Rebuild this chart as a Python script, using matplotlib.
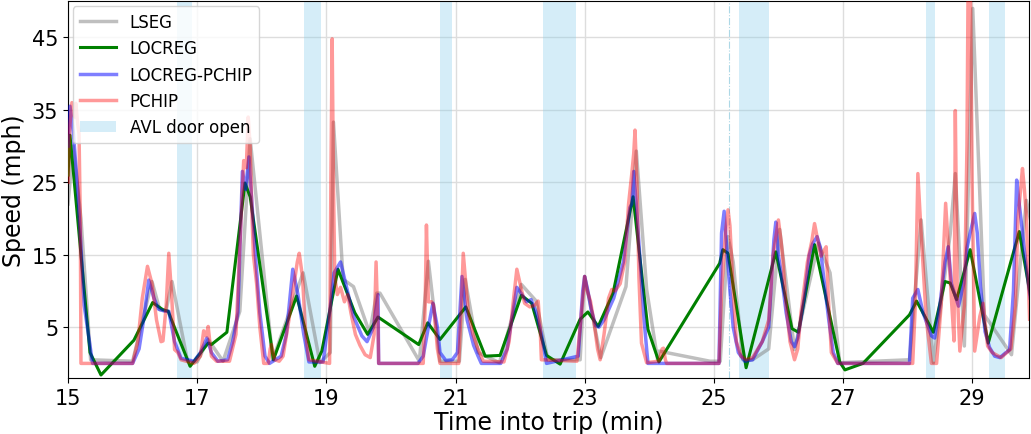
import matplotlib
matplotlib.use("Agg")
import matplotlib.pyplot as plt

# ---- data (minutes, mph) ----
lseg_t = [15.0, 15.08, 15.2, 15.35, 16.0, 16.3, 16.42, 16.52, 16.61, 16.85, 17.0, 17.17, 17.40,
          17.66, 17.82, 17.89, 18.17, 18.64, 18.90, 19.06, 19.11, 19.26, 19.42, 19.67, 19.78,
          19.83, 20.44, 20.58, 20.76, 21.06, 21.15, 21.35, 21.68, 22.02, 22.25, 22.43, 22.93,
          23.00, 23.25, 23.64, 23.80, 23.96, 24.13, 24.15, 24.94, 25.10, 25.22, 25.30, 25.45,
          25.6, 25.85, 26.02, 26.25, 26.4, 26.62, 26.80, 26.95, 28.03, 28.21, 28.40, 28.66,
          28.74, 28.88, 29.01, 29.19, 29.61, 29.84, 29.9]
lseg_v = [22, 30, 20, 0.5, 0.3, 11.3, 7.4, 7.4, 11.3, 0.3, 0.2, 3.3, 0.3,
          7.2, 31.0, 24.9, 0.5, 12.5, 0.1, 1.5, 33.3, 11.6, 10.6, 4.2, 9.7,
          9.7, 0.3, 14.1, 0.3, 0.3, 11.6, 1.5, 0.1, 10.9, 8.6, 0.5, 0.5,
          12.0, 0.8, 10.6, 29.3, 10.2, 0.5, 1.7, 0.3, 0.3, 17.5, 14.0, 0.5,
          0.5, 2.0, 18.5, 1.9, 8.0, 16.6, 12.5, 0.1, 0.5, 19.8, 0.1, 17.8,
          26.2, 2.4, 49.0, 6.7, 1.2, 22.5, 20.0]

locreg_t = [15.0, 15.03, 15.34, 15.51, 16.02, 16.31, 16.47, 16.55, 16.66, 16.89, 17.17, 17.22,
            17.46, 17.74, 17.82, 18.18, 18.54, 18.82, 18.93, 19.18, 19.44, 19.64, 19.80, 20.43,
            20.57, 20.76, 21.16, 21.46, 21.69, 22.02, 22.18, 22.41, 22.62, 22.93, 23.05, 23.21,
            23.44, 23.75, 23.98, 24.15, 25.09, 25.14, 25.22, 25.50, 25.96, 26.21, 26.31, 26.56,
            26.95, 27.03, 27.31, 28.03, 28.14, 28.40, 28.58, 28.66, 28.76, 28.97, 29.25, 29.73,
            29.9]
locreg_v = [26, 31.5, 1.5, -1.6, 3.2, 8.4, 7.4, 7.2, 4.7, -0.4, 2.8, 2.6,
            4.3, 24.9, 23.0, 0.5, 9.3, -0.4, 1.7, 13.0, 7.0, 4.0, 6.4, 2.6,
            5.6, 3.3, 7.8, 1.0, 1.1, 9.4, 8.3, 1.1, -0.1, 6.1, 7.1, 5.1,
            9.7, 23.0, 4.7, 0.2, 13.8, 15.7, 15.2, -0.6, 15.4, 4.8, 4.3, 16.4,
            0.2, -0.9, 0.0, 6.7, 8.6, 4.3, 11.3, 11.1, 8.8, 15.7, 2.8, 18.2,
            9.5]

lpchip_t = [15.0, 15.03, 15.08, 15.15, 15.25, 15.38, 16.0, 16.1, 16.17, 16.25, 16.33, 16.4, 16.5,
            16.56, 16.65, 16.75, 16.95, 17.05, 17.15, 17.22, 17.32, 17.47, 17.55, 17.63, 17.7,
            17.75, 17.8, 17.9, 17.97, 18.05, 18.12, 18.3, 18.38, 18.48, 18.56, 18.65, 18.73,
            18.95, 19.05, 19.12, 19.22, 19.3, 19.42, 19.55, 19.63, 19.73, 19.8, 19.81, 20.42,
            20.5, 20.58, 20.65, 20.72, 20.76, 20.85, 20.95, 21.03, 21.1, 21.18, 21.28, 21.35,
            21.4, 21.7, 21.8, 21.87, 21.95, 22.03, 22.1, 22.17, 22.25, 22.33, 22.41, 22.9,
            22.97, 23.0, 23.05, 23.1, 23.17, 23.22, 23.3, 23.45, 23.6, 23.7, 23.73, 23.76,
            23.8, 23.86, 23.92, 23.98, 25.08, 25.12, 25.16, 25.2, 25.25, 25.3, 25.38, 25.48,
            25.6, 25.75, 25.85, 25.93, 25.96, 26.0, 26.05, 26.12, 26.2, 26.25, 26.3, 26.4,
            26.48, 26.53, 26.6, 26.65, 26.7, 26.78, 26.85, 26.92, 28.03, 28.08, 28.16, 28.24,
            28.37, 28.42, 28.5, 28.58, 28.63, 28.68, 28.79, 28.87, 28.92, 28.97, 29.04, 29.08,
            29.13, 29.2, 29.27, 29.35, 29.43, 29.58, 29.64, 29.69, 29.73, 29.77, 29.83, 29.9]
lpchip_v = [30, 35.5, 32, 24, 8, 0, 0, 2, 6, 11.5, 9, 7.5, 7.2,
            7.2, 3, 0.7, 0.3, 1.5, 3.5, 1.5, 0.3, 0.5, 3, 7, 26.5,
            24, 28.5, 15, 7, 1, 0, 1, 4, 13, 9.5, 4, 0.2,
            0.2, 7, 12.5, 14, 11, 6.5, 3.8, 3, 5, 9.5, 0, 0,
            1, 5, 8.3, 5, 1.5, 0.4, 0.5, 1.5, 12, 6, 2.5, 1,
            0, 0, 2, 6, 10.5, 9.5, 8.5, 8.8, 7, 4, 0, 1,
            10, 12, 10, 7.5, 5.2, 5, 6, 9, 14, 21.5, 22, 26.5,
            22, 14, 6, 0, 0, 18, 21, 16, 10, 5, 1.5, 0.3,
            0.5, 3, 5, 17, 19.5, 15, 12, 7, 3, 2.3, 3.5, 9,
            15, 16.5, 17.5, 16, 12, 6, 1.5, 0, 0, 9, 10.2, 7,
            3.8, 3.5, 8, 14, 16.1, 11, 7.9, 11, 15.9, 18, 20.7, 18,
            10.6, 4.4, 2.2, 1, 0.8, 1.9, 10, 25.3, 22, 18.9, 14, 9]

pchip_t = [15.0, 15.03, 15.06, 15.1, 15.12, 15.15, 15.17, 15.19, 15.2, 16.0, 16.08, 16.15, 16.23,
           16.3, 16.37, 16.44, 16.47, 16.52, 16.56, 16.6, 16.65, 16.7, 16.75, 16.95, 17.05, 17.1,
           17.14, 17.17, 17.22, 17.3, 17.5, 17.6, 17.68, 17.72, 17.76, 17.79, 17.82, 17.85, 17.87,
           17.92, 17.97, 18.03, 18.1, 18.13, 18.15, 18.2, 18.27, 18.33, 18.42, 18.5, 18.55, 18.58,
           18.63, 18.68, 18.73, 19.05, 19.07, 19.09, 19.11, 19.13, 19.17, 19.22, 19.28, 19.33,
           19.38, 19.45, 19.52, 19.6, 19.68, 19.74, 19.77, 19.8, 19.81, 20.5, 20.53, 20.55, 20.58,
           20.63, 20.66, 20.72, 20.76, 21.05, 21.09, 21.12, 21.16, 21.2, 21.27, 21.33, 21.43,
           21.75, 21.83, 21.9, 21.95, 22.0, 22.07, 22.15, 22.22, 22.28, 22.31, 22.33, 22.88,
           22.93, 23.0, 23.04, 23.09, 23.14, 23.2, 23.24, 23.3, 23.37, 23.42, 23.47, 23.55, 23.62,
           23.68, 23.73, 23.76, 23.78, 23.81, 23.84, 23.88, 23.96, 24.15, 24.2, 24.22, 24.25,
           24.27, 25.08, 25.12, 25.18, 25.22, 25.25, 25.3, 25.35, 25.42, 25.5, 25.6, 25.75, 25.85,
           25.92, 26.0, 26.04, 26.07, 26.12, 26.18, 26.25, 26.3, 26.35, 26.45, 26.52, 26.56, 26.61,
           26.66, 26.7, 26.74, 26.78, 26.82, 26.92, 28.08, 28.12, 28.16, 28.21, 28.29, 28.37,
           28.45, 28.52, 28.59, 28.64, 28.68, 28.72, 28.74, 28.77, 28.81, 28.88, 28.92, 28.94,
           28.97, 29.0, 29.04, 29.12, 29.17, 29.24, 29.31, 29.45, 29.6, 29.67, 29.71, 29.76,
           29.78, 29.81, 29.84, 29.89]
pchip_v = [25, 33, 36, 34, 35.9, 33, 31.7, 20, 0, 0, 3, 9, 13.4,
           11, 6, 3, 3.1, 8, 15.2, 10, 1.9, 1.5, 0.5, 0, 1, 4.5,
           3.8, 5.1, 1, 0.3, 0.3, 4, 20, 28, 27, 34, 30, 20, 15,
           11, 5, 0, 0, 2, 2.6, 0.5, 0.3, 1, 6, 11, 14, 15.2,
           12, 4, 0.5, 0, 25, 44.8, 25, 12, 9.5, 10.5, 8.5, 9.5,
           7, 4, 2.5, 1.2, 0.8, 4, 14, 5, 0, 0, 8, 19.1, 8.5,
           8.5, 8.1, 2, 0, 0, 8, 15.2, 11, 7, 4, 2.4, 0.3,
           0.2, 3, 9, 13, 11, 8.3, 7.8, 8, 8.6, 5, 0.5, 0.3,
           5, 12, 10, 8.6, 6, 2, 0.5, 4, 9, 10.2, 10, 11, 14,
           22, 26.2, 29, 32.2, 25, 12, 2.8, 0.1, 0.3, 2, 2.1, 0.5,
           0, 0, 10, 18, 21.2, 19, 10, 3, 1, 0.5, 0.8, 3, 6,
           15, 19.8, 17, 14.3, 8, 3, 0.5, 2, 7, 14, 17, 19.3, 17,
           14.8, 15.5, 16.1, 8, 1.5, 0, 0, 8, 26.2, 18, 6.1, 0,
           0, 8, 22.1, 15, 8.8, 3.1, 34.9, 10, 1.7, 8, 30, 55,
           55, 25, 1.7, 6.5, 8.3, 2.4, 1.5, 0.8, 2, 8, 19.8, 25,
           26.9, 24, 20.3, 6.1]

door_start = [16.68, 18.66, 20.76, 22.35, 25.39, 28.29, 29.26]
door_end = [16.92, 18.92, 20.94, 22.87, 25.85, 28.43, 29.51]
marker_t = 25.24

xticks = [15, 17, 19, 21, 23, 25, 27, 29]
yticks = [5, 15, 25, 35, 45]

plt.rcParams['font.family'] = ['DejaVu Sans']
fig = plt.figure(figsize=(10.31, 4.35), dpi=100)
ax = fig.add_axes([0.066, 0.129, 0.932, 0.866])

for i, (s, e) in enumerate(zip(door_start, door_end)):
    ax.axvspan(s, e, color='skyblue', alpha=0.35, lw=0,
               label='AVL door open' if i == 0 else None, zorder=1)
ax.axvline(marker_t, color='lightblue', ls='-.', lw=0.8, zorder=1)

ax.plot(lseg_t, lseg_v, color='gray', alpha=0.5, lw=2.5, label='LSEG', zorder=2)
ax.plot(locreg_t, locreg_v, color='green', lw=2.2, label='LOCREG', zorder=3)
ax.plot(lpchip_t, lpchip_v, color='blue', alpha=0.5, lw=2.5, label='LOCREG-PCHIP', zorder=4)
ax.plot(pchip_t, pchip_v, color='red', alpha=0.4, lw=2.5, label='PCHIP', zorder=5)

ax.set_xlim(15, 29.88)
ax.set_ylim(-2, 50)
ax.set_xticks(xticks)
ax.set_yticks(yticks)
ax.tick_params(labelsize=15)
ax.grid(True, color='#dddddd', lw=1, zorder=0)
ax.set_axisbelow(True)
ax.set_xlabel('Time into trip (min)', fontsize=17, labelpad=2)
ax.set_ylabel('Speed (mph)', fontsize=17)

handles, labels = ax.get_legend_handles_labels()
order = ['LSEG', 'LOCREG', 'LOCREG-PCHIP', 'PCHIP', 'AVL door open']
hmap = dict(zip(labels, handles))
ax.legend([hmap[k] for k in order], order, loc='upper left', fontsize=12,
          framealpha=0.8, borderaxespad=0.3, handlelength=2.2)

fig.savefig('out.png', dpi=100)
